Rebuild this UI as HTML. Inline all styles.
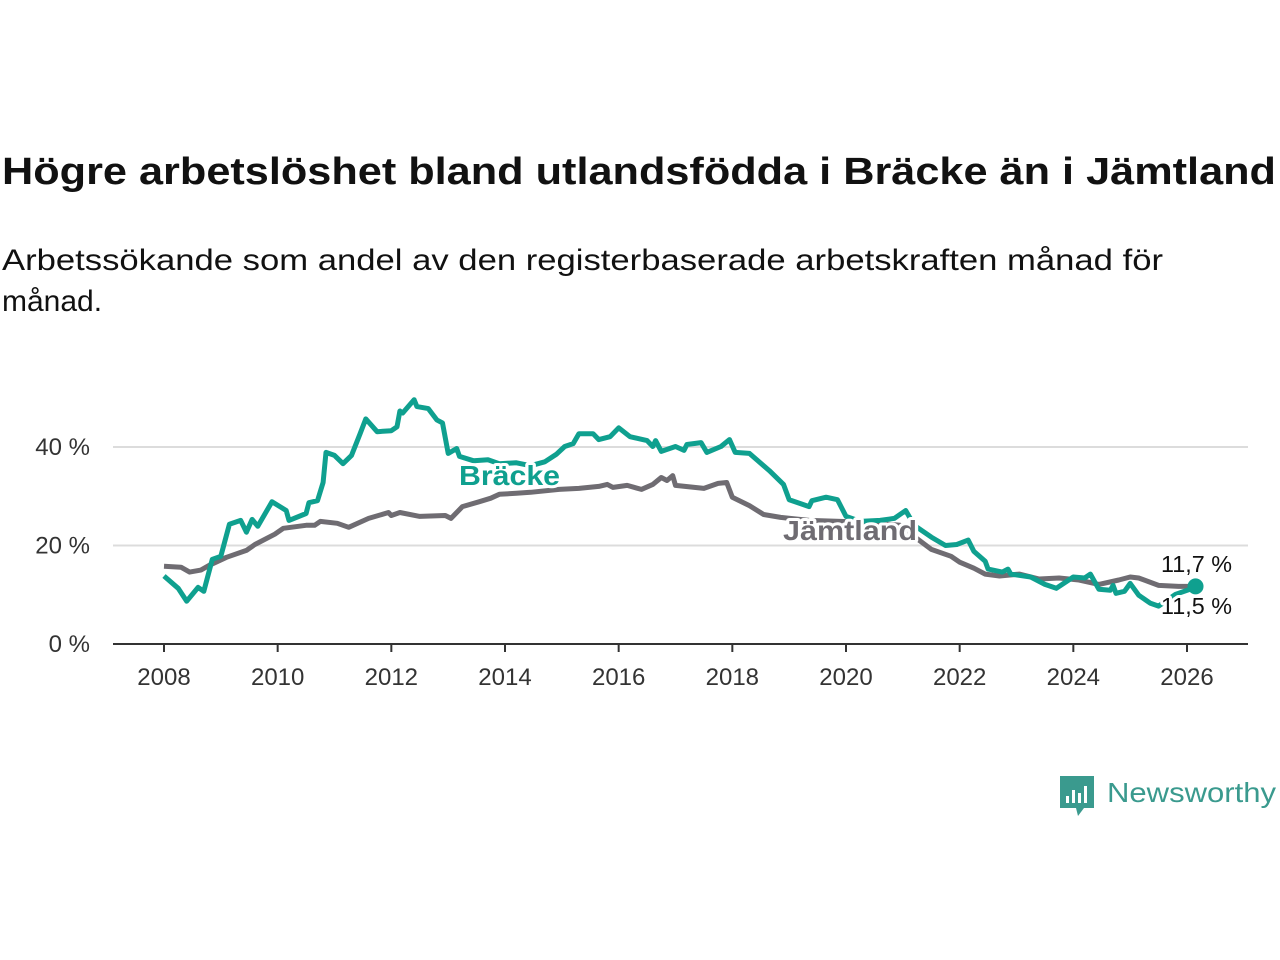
<!DOCTYPE html>
<html><head><meta charset="utf-8"><style>
html,body{margin:0;padding:0;background:#fff;}
svg{display:block;font-family:"Liberation Sans","DejaVu Sans",sans-serif;}
</style></head><body>
<svg id="chart" width="1280" height="960" viewBox="0 0 1280 960">
<text x="2" y="184" font-size="38" font-weight="bold" fill="#111" textLength="1274" lengthAdjust="spacingAndGlyphs">Högre arbetslöshet bland utlandsfödda i Bräcke än i Jämtland</text>
<text x="2" y="270" font-size="30" fill="#111" textLength="1161" lengthAdjust="spacingAndGlyphs">Arbetssökande som andel av den registerbaserade arbetskraften månad för</text>
<text x="2" y="311" font-size="30" fill="#111">månad.</text>
<g id="grid"></g>
<g id="axes"></g>
<g id="series"></g>
<g id="labels"></g>
<g>
<path d="M1060 776 h34 v32 h-10 l-6 8 l-2 -8 h-16 z" fill="#3a9a8e"/>
<rect x="1066" y="796" width="3" height="7" fill="#fff"/><rect x="1072" y="790" width="3" height="13" fill="#fff"/><rect x="1078" y="793" width="3" height="10" fill="#fff"/><rect x="1084" y="786" width="3" height="17" fill="#fff"/>
<text x="1107" y="802" font-size="28" fill="#3a9a8e" textLength="169" lengthAdjust="spacingAndGlyphs">Newsworthy</text>
</g>
</svg>
<script>
const braX=[2008.0,2008.25,2008.4,2008.6,2008.7,2008.85,2009.0,2009.15,2009.35,2009.45,2009.55,2009.65,2009.9,2010.15,2010.2,2010.5,2010.55,2010.7,2010.8,2010.85,2011.0,2011.15,2011.3,2011.45,2011.55,2011.75,2012.0,2012.1,2012.15,2012.2,2012.4,2012.45,2012.65,2012.8,2012.9,2013.0,2013.15,2013.2,2013.45,2013.7,2013.9,2014.2,2014.45,2014.7,2014.9,2015.05,2015.2,2015.3,2015.55,2015.65,2015.85,2016.0,2016.2,2016.5,2016.6,2016.65,2016.75,2017.0,2017.15,2017.2,2017.45,2017.55,2017.8,2017.95,2018.05,2018.3,2018.45,2018.65,2018.9,2019.0,2019.2,2019.35,2019.4,2019.65,2019.85,2020.0,2020.25,2020.6,2020.85,2021.05,2021.2,2021.5,2021.75,2021.95,2022.15,2022.25,2022.45,2022.5,2022.75,2022.85,2022.9,2023.25,2023.5,2023.7,2024.0,2024.2,2024.3,2024.45,2024.65,2024.7,2024.75,2024.9,2025.0,2025.15,2025.35,2025.5,2025.8,2026.15];
const braY=[13.8,11.3,8.7,11.5,10.7,17.2,17.8,24.3,25.1,22.7,25.3,23.9,28.9,27.1,25.1,26.5,28.7,29.1,32.8,38.9,38.3,36.6,38.3,42.7,45.7,43.1,43.3,44.1,47.3,46.9,49.6,48.2,47.8,45.5,44.9,38.7,39.7,38.1,37.2,37.4,36.6,36.8,36.2,37.0,38.5,40.1,40.7,42.7,42.7,41.5,42.1,43.9,42.1,41.3,40.1,41.3,39.1,40.1,39.3,40.5,40.9,38.9,40.1,41.5,38.9,38.7,37.2,35.2,32.4,29.3,28.5,27.9,29.1,29.8,29.3,25.9,24.9,25.1,25.5,27.1,24.1,21.7,20.0,20.2,21.1,18.8,16.8,15.2,14.6,15.2,14.2,13.6,12.1,11.3,13.6,13.4,14.2,11.1,10.9,11.9,10.3,10.7,12.3,9.9,8.3,7.7,10.1,11.5];
const jamX=[2008.0,2008.3,2008.45,2008.65,2008.8,2009.1,2009.45,2009.6,2009.95,2010.1,2010.5,2010.65,2010.75,2011.05,2011.25,2011.6,2011.95,2012.0,2012.15,2012.5,2012.95,2013.05,2013.25,2013.55,2013.75,2013.9,2014.2,2014.45,2014.95,2015.3,2015.65,2015.8,2015.9,2016.15,2016.4,2016.6,2016.75,2016.85,2016.95,2017.0,2017.5,2017.75,2017.9,2018.0,2018.3,2018.55,2018.85,2019.35,2019.9,2020.4,2020.95,2021.25,2021.5,2021.85,2022.0,2022.25,2022.45,2022.7,2023.05,2023.4,2023.75,2024.1,2024.45,2024.8,2025.0,2025.15,2025.5,2025.85,2026.15];
const jamY=[15.8,15.6,14.6,15.0,16.0,17.6,19.0,20.2,22.3,23.5,24.1,24.1,24.9,24.5,23.7,25.5,26.7,26.1,26.7,25.9,26.1,25.5,27.9,28.9,29.6,30.4,30.6,30.8,31.4,31.6,32.0,32.4,31.8,32.2,31.4,32.4,33.8,33.2,34.2,32.2,31.6,32.6,32.8,29.8,28.1,26.3,25.7,25.1,24.9,24.7,24.1,21.4,19.2,17.8,16.6,15.4,14.2,13.8,14.2,13.2,13.4,13.0,12.1,13.0,13.6,13.4,11.9,11.7,11.7];
const yTicks=[0,20,40];
const yTickLabels=["0 %","20 %","40 %"];
const xTicks=[2008,2010,2012,2014,2016,2018,2020,2022,2024,2026];
const endLabels=["11,7 %","11,5 %"];

const NS="http://www.w3.org/2000/svg";
const xs=v=>164+(v-2008)*(1187-164)/18;
const ys=v=>644-v*(644-447)/40;
function mk(tag,attrs,parent){const e=document.createElementNS(NS,tag);for(const k in attrs)e.setAttribute(k,attrs[k]);parent.appendChild(e);return e;}
const grid=document.getElementById('grid'),axes=document.getElementById('axes'),ser=document.getElementById('series'),lab=document.getElementById('labels');
yTicks.forEach((t,i)=>{
 if(t>0){const l=mk('line',{x1:113,x2:1248,y1:ys(t),y2:ys(t),stroke:'#dcdcdc','stroke-width':2},grid);
 
 }
 const tx=mk('text',{x:90,y:ys(t)+8,'font-size':24,fill:'#333','text-anchor':'end'},axes);tx.textContent=yTickLabels[i];
 
 
});
const ax=mk('line',{x1:113,x2:1248,y1:644,y2:644,stroke:'#333','stroke-width':2},axes);


xTicks.forEach(t=>{
 const tk=mk('line',{x1:xs(t),x2:xs(t),y1:644,y2:652,stroke:'#333','stroke-width':2},axes);
 
 
 const tx=mk('text',{x:xs(t),y:685,'font-size':24,fill:'#333','text-anchor':'middle'},axes);tx.textContent=t;
 
 
});
function pts(X,Y){return X.map((x,i)=>xs(x).toFixed(1)+','+ys(Y[i]).toFixed(1)).join(' ');}
const pj=mk('polyline',{points:pts(jamX,jamY),fill:'none',stroke:'#6f6c72','stroke-width':5,'stroke-linejoin':'round'},ser);


const pb=mk('polyline',{points:pts(braX,braY),fill:'none',stroke:'#0fa08f','stroke-width':5,'stroke-linejoin':'round'},ser);


const lastB=braX.length-1,lastJ=jamX.length-1;
const dot=mk('circle',{cx:xs(braX[lastB]),cy:ys(jamY[lastJ]),r:8,fill:'#0fa08f'},ser);


function halo(x,y,txt,size,col,bold,anchor,len){
 const a={x:x,y:y,'font-size':size,fill:col,'font-weight':bold?'bold':'normal','text-anchor':anchor,stroke:'#fff','stroke-width':6,'paint-order':'stroke','stroke-linejoin':'round'};
 if(len){a.textLength=len;a.lengthAdjust='spacingAndGlyphs';}
 const t=mk('text',a,lab);t.textContent=txt;return t;}
const l1=halo(459,485,'Bräcke',28,'#0fa08f',true,'start',101);


const l2=halo(783,540,'Jämtland',28,'#6f6c72',true,'start',134);


const l3=halo(1161,572,endLabels[0],23,'#111',false,'start',71);


const l4=halo(1161,614,endLabels[1],23,'#111',false,'start',71);


</script>
</body></html>
